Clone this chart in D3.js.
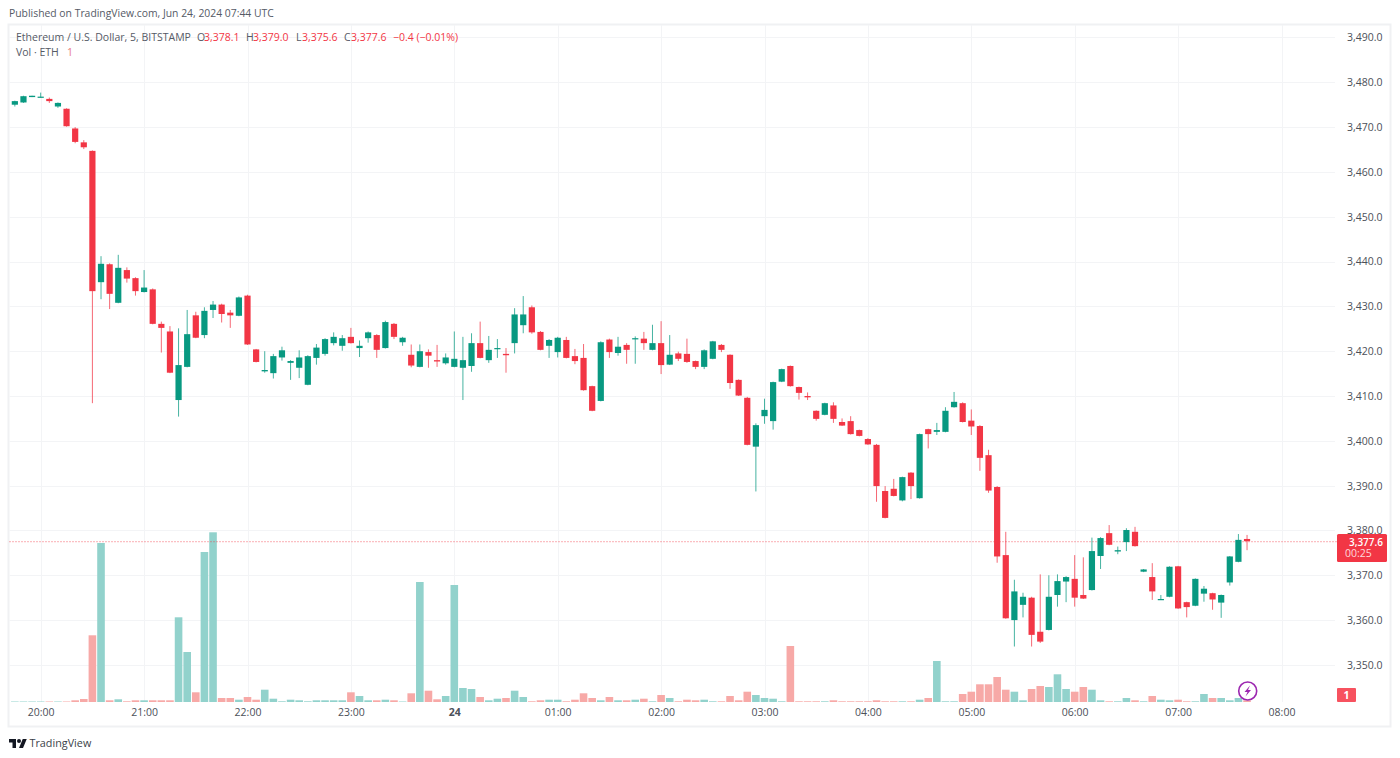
<!DOCTYPE html>
<html>
<head>
<meta charset="utf-8">
<script src="https://cdn.jsdelivr.net/npm/d3@7"></script>
<style>
html,body{margin:0;padding:0;background:#fff;overflow:hidden}
svg{display:block}
text{font-family:"Open Sans",sans-serif;font-size:10.5px}
</style>
</head>
<body>
<svg id="c" width="1400" height="758"></svg>
<script>
const opens=[3475.0,3475.5,3476.7,3476.6,3476.3,3474.6,3474.1,3469.7,3466.6,3464.7,
3435.4,3439.4,3430.8,3438.1,3436.3,3433.2,3433.8,3426.1,3424.4,3409.1,
3416.5,3428.0,3423.6,3429.2,3430.4,3428.6,3427.9,3432.4,3420.4,3415.5,
3415.1,3418.6,3417.4,3416.3,3412.5,3418.5,3419.4,3421.8,3421.2,3423.2,
3420.7,3422.9,3423.6,3420.7,3426.1,3422.0,3419.2,3416.5,3419.8,3418.0,
3417.3,3416.5,3416.3,3416.7,3421.8,3418.0,3420.5,3419.4,3421.8,3425.8,
3429.8,3424.3,3421.2,3419.8,3422.5,3418.9,3418.5,3412.2,3408.9,3422.6,
3419.6,3421.4,3422.7,3422.8,3420.3,3421.8,3417.0,3419.5,3419.4,3417.8,
3416.5,3418.3,3421.4,3419.2,3413.6,3409.6,3398.7,3405.5,3404.4,3413.2,
3416.7,3412.0,3410.0,3406.7,3405.8,3407.9,3404.2,3404.4,3402.4,3400.4,
3399.1,3388.8,3389.3,3386.7,3392.9,3387.2,3402.6,3402.0,3402.0,3407.5,
3408.4,3404.5,3403.3,3396.8,3389.7,3374.5,3360.0,3363.4,3365.0,3357.4,
3357.8,3365.6,3368.6,3369.2,3365.6,3366.7,3374.3,3379.4,3375.3,3377.4,
3379.7,3370.8,3369.6,3364.6,3365.2,3372.0,3364.0,3363.2,3365.9,3366.0,
3363.9,3368.4,3373.0,3378.1];
const highs=[3475.9,3477.0,3477.0,3477.7,3476.6,3475.5,3474.2,3470.0,3467.1,3464.8,
3441.2,3439.6,3441.5,3438.7,3436.5,3438.1,3434.0,3426.6,3425.6,3425.1,
3429.2,3428.8,3429.8,3431.2,3430.6,3429.2,3432.2,3432.6,3420.5,3420.0,
3419.4,3421.0,3418.0,3420.2,3419.1,3421.6,3422.9,3424.2,3423.6,3425.2,
3422.4,3424.4,3423.8,3426.8,3426.3,3423.2,3421.5,3421.5,3420.4,3421.4,
3419.5,3424.4,3423.2,3424.0,3426.6,3423.4,3422.7,3420.7,3429.6,3432.3,
3430.2,3424.5,3422.7,3423.2,3423.2,3420.5,3421.6,3412.3,3422.2,3422.8,
3423.2,3421.8,3423.3,3424.3,3425.9,3426.7,3423.6,3419.9,3422.8,3417.9,
3420.4,3422.3,3421.6,3419.3,3413.7,3409.8,3403.9,3409.4,3413.2,3416.1,
3416.8,3412.1,3410.8,3406.8,3408.5,3408.6,3405.0,3405.5,3402.5,3400.6,
3399.3,3389.9,3391.5,3392.0,3393.0,3401.6,3402.7,3404.0,3407.5,3410.9,
3408.6,3407.0,3403.5,3398.0,3389.9,3379.7,3369.0,3366.1,3365.2,3370.2,
3370.0,3370.2,3369.8,3374.5,3374.0,3378.4,3378.5,3381.2,3376.4,3380.5,
3380.8,3371.4,3372.7,3365.6,3372.0,3372.1,3364.1,3369.3,3367.6,3366.1,
3365.7,3374.3,3379.2,3379.0];
const lows=[3474.6,3475.4,3476.7,3476.6,3475.4,3474.3,3470.1,3466.4,3465.1,3408.4,
3431.6,3429.4,3430.7,3435.3,3432.4,3433.1,3426.0,3419.7,3415.1,3405.4,
3416.4,3422.9,3422.9,3427.4,3426.4,3425.2,3427.8,3421.4,3417.5,3415.2,
3413.9,3417.9,3413.6,3414.0,3412.4,3417.0,3419.0,3421.3,3420.1,3421.7,
3418.7,3421.9,3418.5,3420.6,3422.7,3421.2,3416.4,3416.4,3416.3,3416.5,
3417.0,3416.4,3409.1,3415.4,3418.4,3417.4,3418.5,3415.2,3419.5,3424.0,
3423.9,3420.2,3418.5,3418.6,3418.4,3417.1,3411.2,3406.6,3408.8,3418.5,
3419.0,3417.2,3417.2,3420.3,3420.2,3414.9,3416.9,3417.8,3417.4,3416.0,
3416.0,3418.2,3419.8,3411.6,3410.0,3399.0,3388.7,3403.8,3402.5,3413.1,
3412.1,3409.2,3409.1,3404.5,3405.7,3404.0,3403.3,3401.4,3401.0,3399.1,
3386.4,3382.7,3387.6,3386.5,3387.0,3387.1,3398.3,3401.3,3401.9,3407.4,
3404.1,3401.3,3393.3,3388.4,3372.8,3360.3,3354.1,3360.6,3354.1,3354.9,
3357.7,3363.0,3364.0,3363.0,3364.7,3366.6,3371.4,3376.7,3374.7,3375.4,
3376.4,3370.7,3364.5,3364.5,3365.1,3362.5,3360.6,3363.1,3364.1,3362.3,
3360.5,3367.7,3372.9,3375.6];
const closes=[3475.8,3476.9,3477.0,3476.8,3475.8,3475.4,3470.2,3466.7,3465.5,3433.4,
3439.5,3432.8,3438.6,3436.2,3433.4,3434.2,3426.1,3425.2,3415.2,3416.9,
3423.8,3423.0,3429.0,3430.4,3428.3,3428.0,3432.0,3421.5,3417.6,3415.8,
3418.9,3420.2,3417.8,3418.6,3418.9,3420.8,3422.7,3423.2,3422.9,3421.8,
3421.2,3424.2,3420.3,3426.5,3423.2,3423.0,3416.8,3420.0,3419.0,3417.7,
3418.6,3418.3,3418.0,3421.8,3418.5,3420.3,3420.7,3419.1,3428.2,3428.2,
3424.2,3420.3,3422.5,3423.0,3418.5,3417.8,3411.3,3406.7,3422.0,3419.8,
3421.0,3420.3,3422.9,3421.8,3421.8,3416.9,3419.2,3418.3,3417.6,3416.5,
3420.2,3422.2,3420.3,3412.9,3410.1,3399.1,3403.5,3406.9,3413.1,3416.0,
3412.2,3410.7,3409.7,3404.9,3408.4,3404.9,3403.4,3401.5,3401.1,3399.2,
3389.9,3382.8,3387.7,3391.9,3389.9,3401.5,3401.5,3402.4,3406.7,3408.7,
3404.2,3403.2,3396.2,3388.9,3374.2,3360.4,3366.4,3365.2,3356.7,3355.2,
3365.2,3368.7,3369.6,3365.0,3364.8,3375.4,3378.3,3376.8,3375.6,3380.1,
3376.5,3371.3,3366.4,3364.7,3371.9,3362.6,3362.9,3369.2,3367.0,3364.6,
3365.6,3374.2,3377.9,3377.6];
const volumes=[5,5,5,5,5,5,5,17,30,667,
1590,17,27,7,17,17,17,17,17,847,
500,97,1500,1697,40,40,23,50,23,123,
33,7,23,17,7,17,17,17,17,97,
60,17,17,23,17,5,87,1200,113,27,
60,1170,140,130,50,17,33,40,113,50,
7,17,23,23,7,23,87,40,17,50,
17,17,23,33,7,70,40,7,23,17,
23,7,7,60,17,103,70,40,33,7,
560,7,7,7,7,17,7,7,7,7,
17,7,7,7,7,23,40,410,7,7,
80,103,177,177,250,123,103,17,130,160,
150,277,130,103,150,123,17,7,7,40,
17,7,60,23,17,23,7,7,80,40,
40,17,40,17];
const hourLabels=["20:00","21:00","22:00","23:00","24","01:00","02:00","03:00","04:00","05:00","06:00","07:00","08:00"];
const priceTicks=[3490,3480,3470,3460,3450,3440,3430,3420,3410,3400,3390,3380,3370,3360,3350];
const lastPrice=3377.6;
const headerParts=[["O","3,378.1",197,204],["H","3,379.0",246,253],["L","3,375.6",296,302],["C","3,377.6",344,351]];

const green="#089981",red="#f23645",volGreen="#92d2cc",volRed="#f7a9a7",grid="#f3f4f6",frame="#f0f1f3",ink="#555a66",axisInk="#4c5059";
const t0=Date.UTC(2024,5,23,19,45);
const step=5*60000;
const candles=opens.map((o,i)=>({t:new Date(t0+i*step),o,h:highs[i],l:lows[i],c:closes[i],v:volumes[i]}));
const hourTicks=hourLabels.map((_,i)=>new Date(Date.UTC(2024,5,23,20)+i*3600000));

const svg=d3.select("#c");
const x=d3.scaleUtc().domain([hourTicks[0],hourTicks[12]]).range([40.7,1281.5]);
const y=d3.scaleLinear().domain([3350,3480]).range([664.9,82.3]);
const yV=d3.scaleLinear().domain([0,1700]).range([702,532]);
const plotL=9.5,plotR=1335,plotT=25,plotB=702;

// frame
svg.append("rect").attr("x",8.5).attr("y",24.5).attr("width",1382).attr("height",702).attr("fill","none").attr("stroke",frame).attr("stroke-width",2);

// vertical grid + time axis
const xAxis=d3.axisBottom(x).tickValues(hourTicks).tickSize(0).tickPadding(7).tickFormat((d,i)=>hourLabels[i]);
const gx=svg.append("g").attr("transform",`translate(0,${plotB})`).call(xAxis);
gx.select(".domain").remove();
gx.selectAll("text").attr("fill",axisInk).style("font-size","10.5px").attr("font-weight",(d,i)=>hourLabels[i]==="24"?"700":"400");
svg.append("g").selectAll("line").data(hourTicks).join("line")
 .attr("x1",d=>Math.round(x(d))+.5).attr("x2",d=>Math.round(x(d))+.5).attr("y1",plotT).attr("y2",plotB)
 .attr("stroke",grid);

// horizontal grid + price axis
svg.append("g").selectAll("line").data(priceTicks).join("line")
 .attr("x1",plotL).attr("x2",plotR).attr("y1",d=>Math.round(y(d))+.5).attr("y2",d=>Math.round(y(d))+.5)
 .attr("stroke",grid);
const yAxis=d3.axisRight(y).tickValues(priceTicks).tickSize(0).tickPadding(0).tickFormat(d3.format(",.1f"));
const gy=svg.append("g").attr("transform","translate(1347,0)").call(yAxis);
gy.select(".domain").remove();
gy.selectAll("text").attr("fill",axisInk).style("font-size","10.5px");

// volume
const vw=7.6;
svg.append("g").selectAll("rect").data(candles).join("rect")
 .attr("x",d=>x(d.t)-vw/2).attr("width",vw)
 .attr("y",d=>yV(d.v)).attr("height",d=>yV(0)-yV(d.v))
 .attr("fill",d=>d.c>=d.o?volGreen:volRed);

// last price line
svg.append("line").attr("x1",plotL).attr("x2",1337).attr("y1",y(lastPrice)+.5).attr("y2",y(lastPrice)+.5)
 .attr("stroke",red).attr("stroke-dasharray","1 2").attr("stroke-opacity",.8);

// candles
const cg=svg.append("g").selectAll("g").data(candles).join("g");
cg.append("line").attr("x1",d=>x(d.t)).attr("x2",d=>x(d.t)).attr("y1",d=>y(d.h)).attr("y2",d=>y(d.l))
 .attr("stroke",d=>d.c>=d.o?green:red).attr("stroke-width",1).attr("stroke-opacity",.75);
const bw=6.2;
cg.append("rect").attr("x",d=>x(d.t)-bw/2).attr("width",bw)
 .attr("y",d=>y(Math.max(d.o,d.c))).attr("height",d=>Math.max(1.2,Math.abs(y(d.o)-y(d.c))))
 .attr("fill",d=>d.c>=d.o?green:red);

// header
svg.append("text").attr("x",9).attr("y",17).attr("fill",ink).style("font-size","10.38px").text("Published on TradingView.com, Jun 24, 2024 07:44 UTC");
svg.append("text").attr("x",16).attr("y",41).attr("fill",ink).text("Ethereum / U.S. Dollar, 5, BITSTAMP");
headerParts.forEach(([k,v,kx,vx])=>{
 svg.append("text").attr("x",kx).attr("y",41).attr("fill",ink).text(k);
 svg.append("text").attr("x",vx).attr("y",41).attr("fill",red).text(v);
});
svg.append("text").attr("x",393).attr("y",41).attr("fill",red).text("−0.4 (−0.01%)");
svg.append("text").attr("x",16).attr("y",56).attr("fill",ink).text("Vol · ETH");
svg.append("text").attr("x",67).attr("y",56).attr("fill","#e8797f").text("1");

// price badge
svg.append("rect").attr("x",1337).attr("y",534).attr("width",50).attr("height",28).attr("rx",1.5).attr("fill",red);
svg.append("text").attr("x",1383).attr("y",545.5).attr("text-anchor","end").attr("fill","#fff").attr("font-weight",600).style("font-size","10px").text("3,377.6");
svg.append("text").attr("x",1345).attr("y",557).attr("fill","#ffd9dc").text("00:25");
svg.append("rect").attr("x",1337).attr("y",688).attr("width",19).attr("height",14).attr("rx",1).attr("fill","#f7525f");
svg.append("text").attr("x",1346.5).attr("y",699).attr("text-anchor","middle").attr("fill","#fff").attr("font-weight",700).text("1");

// lightning badge
svg.append("circle").attr("cx",1247.7).attr("cy",691).attr("r",9).attr("fill","#fff").attr("stroke","#9c27b0").attr("stroke-width",1.6);
svg.append("path").attr("d","M1250 685.5L1244.5 692H1247.5L1245.5 696.5L1251 690H1248Z").attr("fill","#9c27b0");

// logo
const logo=svg.append("g").attr("transform","translate(9,737) scale(.5)").attr("fill","#131722");
logo.append("path").attr("d","M14 22H7V11H0V4h14v18zM28 22h-8l7.5-18h8L28 22z");
logo.append("circle").attr("cx",20).attr("cy",8).attr("r",4);
svg.append("text").attr("x",29.5).attr("y",747).attr("fill","#3b3f49").style("font-size","10.8px").text("TradingView");
</script>
</body>
</html>
